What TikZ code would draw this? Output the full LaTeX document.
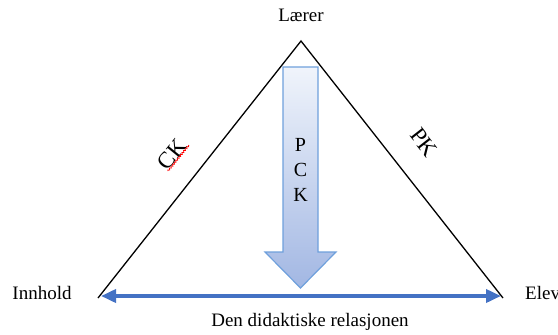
\documentclass[tikz,border=0pt]{standalone}
\usepackage{fontspec}
\setmainfont{Liberation Serif}
\usetikzlibrary{arrows.meta,decorations.pathmorphing}
\definecolor{bluearrow}{HTML}{4472C4}
\definecolor{pckedge}{HTML}{6FA0DC}
\definecolor{pcktop}{HTML}{F0F4FB}
\definecolor{pckbot}{HTML}{A2B7E3}
\tikzset{
  lbl/.style={font=\fontsize{19}{22}\selectfont, inner sep=0pt},
  big/.style={font=\fontsize{23}{26}\selectfont, inner sep=0pt},
  pck/.style={font=\fontsize{20}{24}\selectfont, inner sep=0pt},
  tri/.style={line width=1.3pt, black, line join=miter},
  rel/.style={line width=3.6pt, bluearrow, {Triangle[length=15pt,width=13pt]}-{Triangle[length=15pt,width=13pt]}},
}
\begin{document}
\begin{tikzpicture}[x=1pt,y=-1pt]
\useasboundingbox (0,0) rectangle (558,335);
% corners
\coordinate (top) at (301,41);
\coordinate (bl) at (98,298);
\coordinate (br) at (503,298);
\draw[tri] (bl) -- (top) -- (br);
% relation arrow
\coordinate (ra) at (101,296);
\coordinate (rb) at (501,296);
\draw[rel] (ra) -- (rb);
% PCK arrow
\path[top color=pcktop, bottom color=pckbot, draw=pckedge, line width=1.2pt, line join=miter]
  (283,67) -- (318,67) -- (318,252) -- (336,252) -- (300.5,288) -- (265,252) -- (283,252) -- cycle;
\node[pck, anchor=base] (P) at (300.5,151) {P};
\node[pck, anchor=base] (C) at (300.5,176) {C};
\node[pck, anchor=base] (K) at (300.5,201) {K};
% labels
\node[lbl] (laerer) at (301,15) {Lærer};
\node[lbl] (innhold) at (42,293) {Innhold};
\node[lbl, anchor=west] (elev) at (525,293) {Elev};
\node[lbl] (rel) at (310,322) {Den didaktiske relasjonen};
\node[big, rotate=51] (ck) at (172,154) {CK};
\node[big, rotate=-52] (pk) at (424,142) {PK};
\draw[red, line width=0.7pt, decorate, decoration={zigzag, amplitude=0.8pt, segment length=2.5pt}] (168,171) -- (189,145);
\end{tikzpicture}
\end{document}
